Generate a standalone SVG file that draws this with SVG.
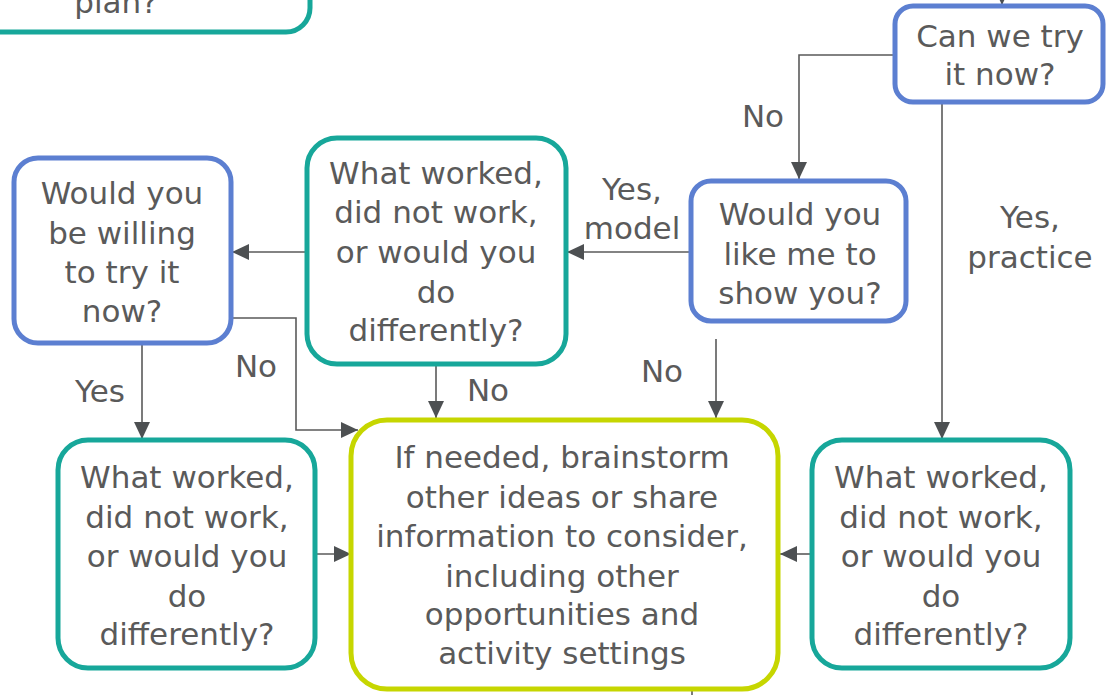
<svg xmlns="http://www.w3.org/2000/svg" width="1110" height="695" viewBox="0 0 1110 695">
  <style>
    .box { fill: #ffffff; stroke-width: 5; }
    .teal { stroke: #17a79a; }
    .blue { stroke: #5c7fd1; }
    .lime { stroke: #c6d600; }
    .t { font-family: "DejaVu Sans", "Liberation Sans", sans-serif; font-size: 31px; fill: #5a5a5a; text-anchor: middle; }
    .edge { fill: none; stroke: #5a5a5a; stroke-width: 1.6; }
  </style>
  <defs>
    <marker id="arrow" markerUnits="userSpaceOnUse" markerWidth="18" markerHeight="16" refX="17" refY="8" orient="auto">
      <path d="M0,0 L17,8 L0,16 Z" fill="#4d5052"/>
    </marker>
  </defs>
  <rect width="1110" height="695" fill="#ffffff"/>

  <!-- connectors -->
  <g id="connectors">
    <path class="edge" d="M1002,-10 V5" marker-end="url(#arrow)"/>
    <path class="edge" d="M894,55 H799 V179" marker-end="url(#arrow)"/>
    <path class="edge" d="M942,102 V439" marker-end="url(#arrow)"/>
    <path class="edge" d="M691,252 H567" marker-end="url(#arrow)"/>
    <path class="edge" d="M307,252 H232" marker-end="url(#arrow)"/>
    <path class="edge" d="M231,318 H296 V430 H358" marker-end="url(#arrow)"/>
    <path class="edge" d="M142,343 V439" marker-end="url(#arrow)"/>
    <path class="edge" d="M436,364 V418" marker-end="url(#arrow)"/>
    <path class="edge" d="M716,339 V418" marker-end="url(#arrow)"/>
    <path class="edge" d="M315,554 H351" marker-end="url(#arrow)"/>
    <path class="edge" d="M812,554 H780" marker-end="url(#arrow)"/>
    <path class="edge" d="M692,690 V700"/>
    <text class="t" x="763" y="127">No</text>
    <text class="t" x="1030" y="228">Yes,</text>
    <text class="t" x="1030" y="268">practice</text>
    <text class="t" x="632" y="200">Yes,</text>
    <text class="t" x="632" y="239">model</text>
    <text class="t" x="256" y="377">No</text>
    <text class="t" x="100" y="402">Yes</text>
    <text class="t" x="488" y="401">No</text>
    <text class="t" x="662" y="382">No</text>
  </g>

  <g id="node-plan">
    <rect class="box teal" x="-30" y="-100" width="340" height="132" rx="24"/>
    <text class="t" x="116" y="13">plan?</text>
  </g>

  <g id="node-try-now">
    <rect class="box blue" x="895" y="6" width="208" height="96" rx="18"/>
    <text class="t" x="1000" y="47">Can we try</text>
    <text class="t" x="1000" y="85">it now?</text>
  </g>

  <g id="node-show-you">
    <rect class="box blue" x="691" y="181" width="215" height="140" rx="20"/>
    <text class="t" x="800" y="225">Would you</text>
    <text class="t" x="800" y="265">like me to</text>
    <text class="t" x="800" y="304">show you?</text>
  </g>

  <g id="node-reflect-model">
    <rect class="box teal" x="307" y="138" width="259" height="226" rx="30"/>
    <text class="t" x="436" y="184">What worked,</text>
    <text class="t" x="436" y="223">did not work,</text>
    <text class="t" x="436" y="263">or would you</text>
    <text class="t" x="436" y="303">do</text>
    <text class="t" x="436" y="341">differently?</text>
  </g>

  <g id="node-willing">
    <rect class="box blue" x="14" y="158" width="217" height="185" rx="24"/>
    <text class="t" x="122" y="204">Would you</text>
    <text class="t" x="122" y="244">be willing</text>
    <text class="t" x="122" y="283">to try it</text>
    <text class="t" x="122" y="322">now?</text>
  </g>

  <g id="node-reflect-willing">
    <rect class="box teal" x="58" y="440" width="257" height="228" rx="30"/>
    <text class="t" x="187" y="488">What worked,</text>
    <text class="t" x="187" y="528">did not work,</text>
    <text class="t" x="187" y="567">or would you</text>
    <text class="t" x="187" y="607">do</text>
    <text class="t" x="187" y="645">differently?</text>
  </g>

  <g id="node-brainstorm">
    <rect class="box lime" x="351" y="420" width="427" height="269" rx="36"/>
    <text class="t" x="562" y="468">If needed, brainstorm</text>
    <text class="t" x="562" y="508">other ideas or share</text>
    <text class="t" x="562" y="547">information to consider,</text>
    <text class="t" x="562" y="587">including other</text>
    <text class="t" x="562" y="625">opportunities and</text>
    <text class="t" x="562" y="664">activity settings</text>
  </g>

  <g id="node-reflect-practice">
    <rect class="box teal" x="812" y="440" width="258" height="228" rx="30"/>
    <text class="t" x="941" y="488">What worked,</text>
    <text class="t" x="941" y="528">did not work,</text>
    <text class="t" x="941" y="567">or would you</text>
    <text class="t" x="941" y="607">do</text>
    <text class="t" x="941" y="645">differently?</text>
  </g>
</svg>
